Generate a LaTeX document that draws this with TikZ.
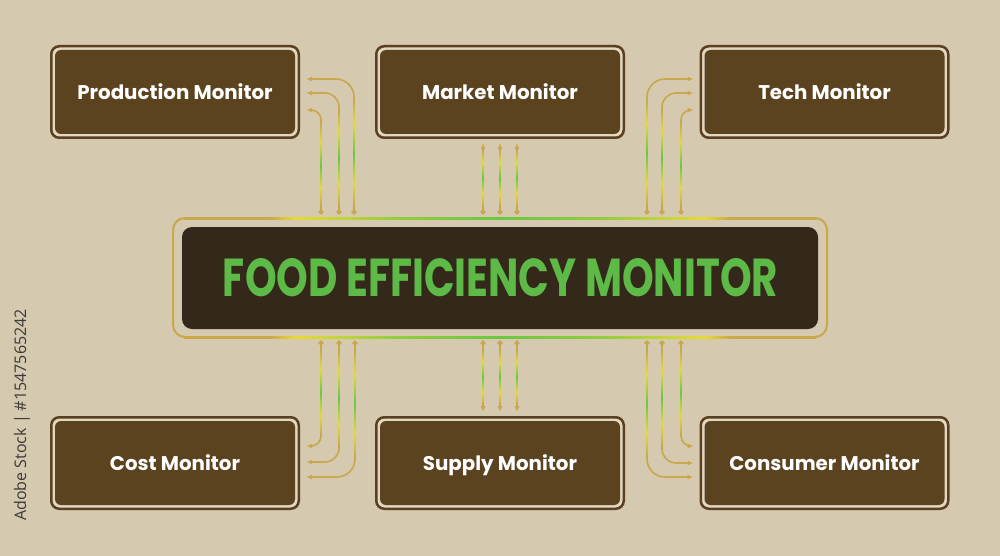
\documentclass[tikz,border=0pt]{standalone}
\usepackage{graphicx}
\usepackage{fontspec}
\setmainfont{Poppins}
\newfontfamily\sidefont{Open Sans}
\usetikzlibrary{arrows.meta,calc}
\definecolor{bg}{HTML}{D5C9B0}
\definecolor{gapbeige}{HTML}{E2D7C0}
\definecolor{framebrown}{HTML}{5A4020}
\definecolor{boxbrown}{HTML}{5C4320}
\definecolor{darkbox}{HTML}{33281A}
\definecolor{titlegreen}{HTML}{5DBA47}
\definecolor{lgold}{HTML}{C9A84C}
\definecolor{lyel}{HTML}{E6DA35}
\definecolor{lgreen}{HTML}{6CC644}
\definecolor{sidegray}{HTML}{3C3A36}
\pgfdeclareverticalshading{vgrad}{100bp}{color(0bp)=(lgold); color(25bp)=(lgold); color(36bp)=(lyel); color(50bp)=(lgreen); color(64bp)=(lyel); color(75bp)=(lgold); color(100bp)=(lgold)}
\pgfdeclarehorizontalshading{hgrad}{100bp}{color(0bp)=(lgold); color(31.8bp)=(lgold); color(33.8bp)=(lyel); color(42bp)=(lgreen!70!lyel); color(50bp)=(lgreen); color(58bp)=(lgreen!70!lyel); color(66.2bp)=(lyel); color(68.2bp)=(lgold); color(100bp)=(lgold)}
\newcommand\gradseg[3]{\shade[shading=vgrad] ({#1-0.8},#2) rectangle ({#1+0.8},#3);}
\tikzset{
  frame/.style={draw=framebrown, line width=2.5pt, fill=gapbeige, rounded corners=8pt,
    minimum width=247.5pt, minimum height=91.5pt, inner sep=0pt},
  card/.style={fill=boxbrown, rounded corners=6pt, minimum width=240pt, minimum height=84pt,
    text=white, font=\bfseries\fontsize{19.8}{22}\selectfont, inner sep=0pt,
    text height=15.5pt, text depth=0pt},
  conn/.style={draw=lgold, line width=1.6pt, {Circle[length=5pt,width=5pt]}-{Latex[length=6pt,width=5pt]}},
}
\begin{document}
\begin{tikzpicture}[x=1pt,y=-1pt]
\fill[bg] (0,0) rectangle (1000,556);
\useasboundingbox (0,0) rectangle (1000,556);

% central
\node[draw=lgold, line width=2pt, rounded corners=12pt, minimum width=654pt, minimum height=119pt, inner sep=0pt] (cf) at (500,277.5) {};
\shade[shading=hgrad] (184,217) rectangle (816,219);
\shade[shading=hgrad] (184,336) rectangle (816,338);
\node[fill=darkbox, rounded corners=10pt, minimum width=636pt, minimum height=102pt, inner sep=0pt] (center) at (500,278) {};
\node[text=titlegreen, inner sep=0pt] (title) at (500.5,278) {\resizebox{555pt}{38pt}{\bfseries FOOD EFFICIENCY MONITOR}};

% boxes
\node[frame] (ftl) at (175,92) {};
\node[card] (tl) at (175,92) {Production Monitor};
\node[frame] (ftm) at (500,92) {};
\node[card] (tm) at (500,92) {Market Monitor};
\node[frame] (ftr) at (824.5,92) {};
\node[card] (tr) at (824.5,92) {Tech Monitor};
\node[frame] (fbl) at (175,463) {};
\node[card] (bl) at (175,463) {Cost Monitor};
\node[frame] (fbm) at (500,463) {};
\node[card] (bm) at (500,463) {Supply Monitor};
\node[frame] (fbr) at (824.5,463) {};
\node[card] (br) at (824.5,463) {Consumer Monitor};

% top-left connectors
\draw[conn, rounded corners=10pt] ([xshift=-179pt,yshift=2.5pt]cf.north) |- ([xshift=6pt,yshift=-18pt]ftl.east);
\draw[conn, rounded corners=14pt] ([xshift=-161pt,yshift=2.5pt]cf.north) |- ([xshift=6pt,yshift=-1pt]ftl.east);
\draw[conn, rounded corners=18pt] ([xshift=-146pt,yshift=2.5pt]cf.north) |- ([xshift=6pt,yshift=13pt]ftl.east);
\gradseg{321}{124}{206}
\gradseg{339}{110}{206}
\gradseg{354}{100}{206}

% top-middle connectors
\draw[conn] ([xshift=-17pt,yshift=2.5pt]cf.north) -- ([xshift=-17pt,yshift=-4pt]ftm.south);
\draw[conn] ([yshift=2.5pt]cf.north) -- ([yshift=-4pt]ftm.south);
\draw[conn] ([xshift=17pt,yshift=2.5pt]cf.north) -- ([xshift=17pt,yshift=-4pt]ftm.south);
\gradseg{483}{150}{206}
\gradseg{500}{150}{206}
\gradseg{517}{150}{206}

% top-right connectors
\draw[conn, rounded corners=18pt] ([xshift=147pt,yshift=2.5pt]cf.north) |- ([xshift=-6pt,yshift=13pt]ftr.west);
\draw[conn, rounded corners=14pt] ([xshift=162pt,yshift=2.5pt]cf.north) |- ([xshift=-6pt,yshift=-1pt]ftr.west);
\draw[conn, rounded corners=10pt] ([xshift=181pt,yshift=2.5pt]cf.north) |- ([xshift=-6pt,yshift=-18pt]ftr.west);
\gradseg{647}{100}{206}
\gradseg{662}{110}{206}
\gradseg{681}{124}{206}

% bottom-left connectors
\draw[conn, rounded corners=10pt] ([xshift=-179pt,yshift=-2.5pt]cf.south) |- ([xshift=6pt,yshift=17pt]fbl.east);
\draw[conn, rounded corners=14pt] ([xshift=-161pt,yshift=-2.5pt]cf.south) |- ([xshift=6pt,yshift=1pt]fbl.east);
\draw[conn, rounded corners=18pt] ([xshift=-145pt,yshift=-2.5pt]cf.south) |- ([xshift=6pt,yshift=-14pt]fbl.east);
\gradseg{321}{350}{434}
\gradseg{339}{350}{446}
\gradseg{355}{350}{457}

% bottom-middle connectors
\draw[conn] ([xshift=-17pt,yshift=-2.5pt]cf.south) -- ([xshift=-17pt,yshift=4pt]fbm.north);
\draw[conn] ([yshift=-2.5pt]cf.south) -- ([yshift=4pt]fbm.north);
\draw[conn] ([xshift=17pt,yshift=-2.5pt]cf.south) -- ([xshift=17pt,yshift=4pt]fbm.north);
\gradseg{483}{350}{404}
\gradseg{500}{350}{404}
\gradseg{517}{350}{404}

% bottom-right connectors
\draw[conn, rounded corners=18pt] ([xshift=147pt,yshift=-2.5pt]cf.south) |- ([xshift=-6pt,yshift=-14pt]fbr.west);
\draw[conn, rounded corners=14pt] ([xshift=162pt,yshift=-2.5pt]cf.south) |- ([xshift=-6pt,yshift=0pt]fbr.west);
\draw[conn, rounded corners=10pt] ([xshift=181pt,yshift=-2.5pt]cf.south) |- ([xshift=-6pt,yshift=17pt]fbr.west);
\gradseg{647}{350}{457}
\gradseg{662}{350}{446}
\gradseg{681}{350}{434}

% side label
\node[rotate=90, text=sidegray, font=\sidefont\fontsize{16}{19}\selectfont, inner sep=0pt] (side) at (22,415) {Adobe Stock | \#1547565242};
\end{tikzpicture}
\end{document}
